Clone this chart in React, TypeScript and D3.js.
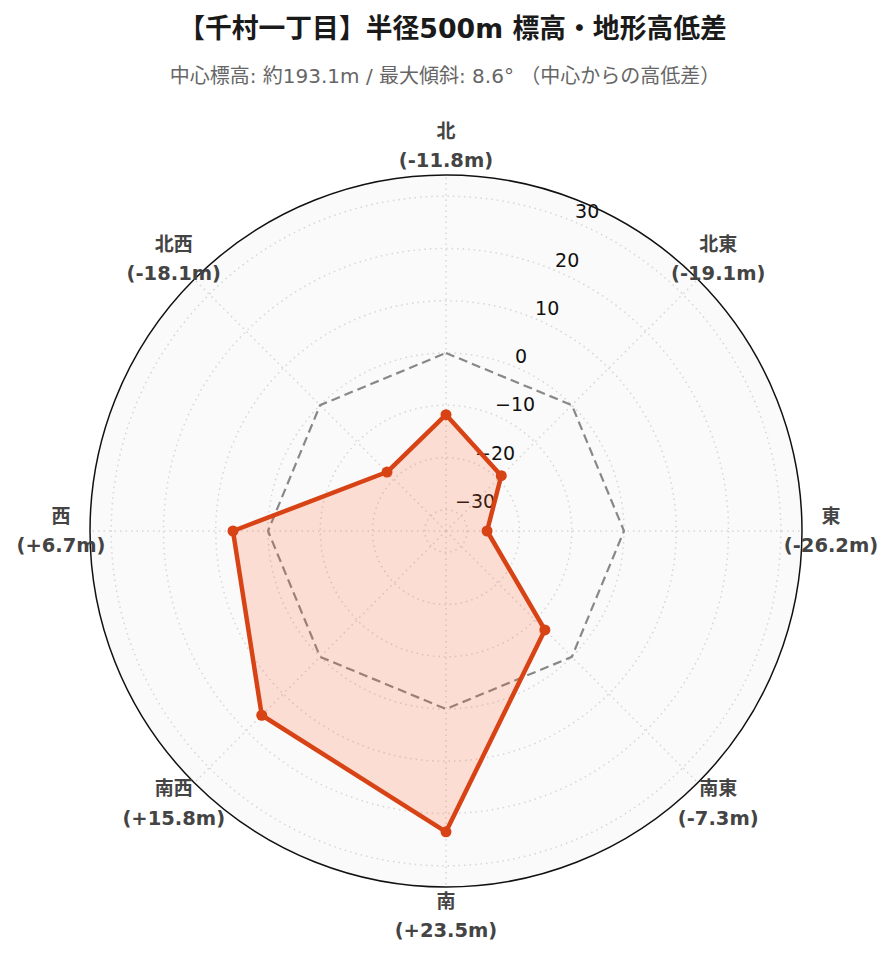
import React from "react";
import * as d3 from "d3";

const directions = ["北", "北東", "東", "南東", "南", "南西", "西", "北西"];
const diffs = [-11.8, -19.1, -26.2, -7.3, 23.5, 15.8, 6.7, -18.1];
const radialTicks = [-30, -20, -10, 0, 10, 20, 30];
const titleText = "【千村一丁目】半径500m 標高・地形高低差";
const subtitleText = "中心標高: 約193.1m / 最大傾斜: 8.6° （中心からの高低差）";

const W = 896;
const H = 962;
const CX = 446;
const CY = 531;
const R = 356;
const maxAbs = d3.max(diffs.map(Math.abs)) as number;
const lim = maxAbs * 1.3;

const FONT = "'DejaVu Sans', 'Noto Sans CJK JP', sans-serif";

export default function App() {
  const r = d3.scaleLinear().domain([-lim, lim]).range([0, R]);
  const ang = d3
    .scalePoint<string>()
    .domain(directions)
    .range([0, 2 * Math.PI * (1 - 1 / directions.length)]);
  const pt = (a: number, rr: number) => [CX + rr * Math.sin(a), CY - rr * Math.cos(a)];

  const lineGen = d3
    .lineRadial<number>()
    .angle((_, i) => ang(directions[i]) as number)
    .radius((d) => r(d))
    .curve(d3.curveLinearClosed);

  const zeroPath = lineGen(directions.map(() => 0)) || "";
  const dataPath = lineGen(diffs) || "";
  const tickAngle = Math.PI / 8;

  return (
    <div style={{ position: "absolute", left: 0, top: 0 }}>
      <svg width={W} height={H} style={{ display: "block", background: "#fff" }}>
        <text x={452.5} y={38} textAnchor="middle" fontFamily={FONT} fontWeight="bold" fontSize={26.8} fill="#1a1a1a">
          {titleText}
        </text>
        <text x={445} y={83} textAnchor="middle" fontFamily={FONT} fontSize={20} fill="#666">
          {subtitleText}
        </text>

        <circle cx={CX} cy={CY} r={R} fill="#fafafa" />
        {radialTicks.map((t) => (
          <circle key={t} cx={CX} cy={CY} r={r(t)} fill="none" stroke="#d6d6d6" strokeWidth={1.5} strokeDasharray="1.5,4" />
        ))}
        {directions.map((d) => {
          const [x, y] = pt(ang(d) as number, R);
          return <line key={d} x1={CX} y1={CY} x2={x} y2={y} stroke="#d6d6d6" strokeWidth={1.5} strokeDasharray="1.5,4" />;
        })}

        {radialTicks.map((t) => {
          const [x, y] = pt(tickAngle, r(t));
          return (
            <text key={t} x={x + 1} y={y - 10} dy="0.35em" textAnchor="start" fontFamily={FONT} fontSize={19} fill="#111">
              {t < 0 ? "\u2212" + Math.abs(t) : String(t)}
            </text>
          );
        })}

        <circle cx={CX} cy={CY} r={R} fill="none" stroke="#111" strokeWidth={1.5} />

        <g transform={`translate(${CX},${CY})`}>
          <path d={zeroPath} fill="none" stroke="#888" strokeWidth={2.2} strokeDasharray="9,5" />
          <path d={dataPath} fill="rgba(255,87,34,0.18)" stroke="#d84315" strokeWidth={4.5} strokeLinejoin="round" />
        </g>
        {diffs.map((v, i) => {
          const [x, y] = pt(ang(directions[i]) as number, r(v));
          return <circle key={i} cx={x} cy={y} r={5.5} fill="#d84315" />;
        })}

        {directions.map((d, i) => {
          const [x, y] = pt(ang(d) as number, 385);
          const v = diffs[i];
          const lbl = `(${v > 0 ? "+" : ""}${v.toFixed(1)}m)`;
          return (
            <g key={d}>
              <text x={x} y={y - 14.5} dy="0.35em" textAnchor="middle" fontFamily={FONT} fontWeight="bold" fontSize={19} fill="#444">
                {d}
              </text>
              <text x={x} y={y + 14.5} dy="0.35em" textAnchor="middle" fontFamily={FONT} fontWeight="bold" fontSize={19.5} fill="#444">
                {lbl}
              </text>
            </g>
          );
        })}
      </svg>
    </div>
  );
}
